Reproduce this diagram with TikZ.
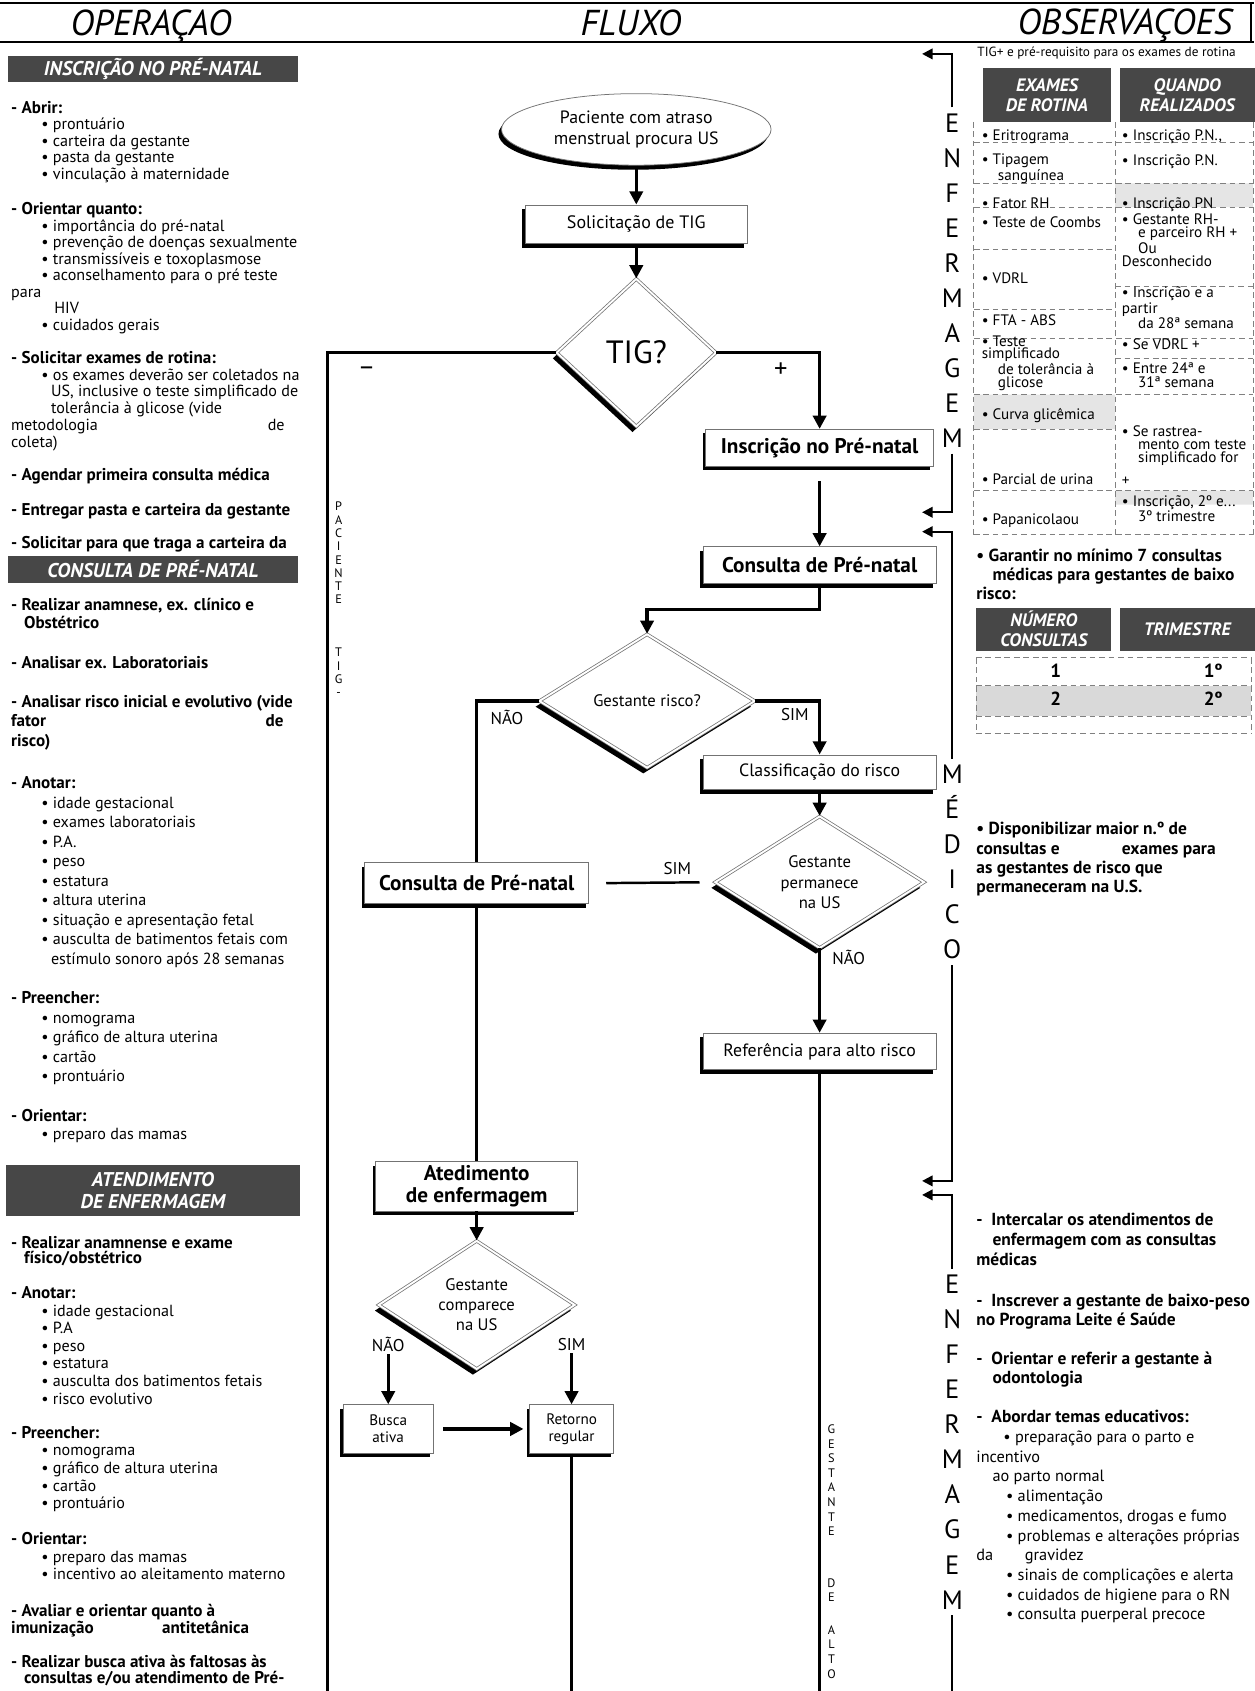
\documentclass[tikz,border=0pt]{standalone}
\usepackage{fontspec}
\setmainfont{PT Sans}
\usetikzlibrary{arrows.meta, positioning, shapes.geometric, shadows}

\newcommand{\fsz}[2]{\fontsize{#1}{#2}\selectfont}
\newcommand{\hd}[1]{{\fontsize{9}{9}\selectfont\bfseries #1}}
\newcommand{\bul}{\textbullet\ }
\newcommand{\itind}{\hspace*{0.56cm}}
\newcommand{\cont}{\hspace*{0.74cm}}
\newcommand{\rind}{\hspace*{0.3cm}}

\begin{document}
\begin{tikzpicture}[
  x=0.02cm, y=-0.02cm,
  ttl/.style={font=\fsz{19}{22}\itshape, inner sep=0, anchor=base},
  banner/.style={rectangle, fill=black!72, text=white, font=\fsz{10.5}{12}\bfseries\itshape,
                 align=center, inner sep=0, anchor=north west},
  item/.style={anchor=base west, align=left, inner sep=0},
  term/.style={ellipse, draw=black!55, fill=white, align=center, font=\fsz{9.4}{11.5},
               minimum width=5cm, minimum height=1.28cm,
               drop shadow={shadow xshift=-1.6pt, shadow yshift=-2.4pt, opacity=1, fill=black}},
  box/.style={rectangle, draw=black!55, fill=white, align=center, inner sep=1pt,
              drop shadow={shadow xshift=-1.6pt, shadow yshift=-2.2pt, opacity=1, fill=black}},
  dec/.style={diamond, draw=black!55, double=white, double distance=1pt, fill=white,
              align=center, inner sep=0,
              drop shadow={shadow xshift=-2pt, shadow yshift=-3pt, opacity=1, fill=black}},
  lbl/.style={font=\fsz{9}{10}, inner sep=1pt},
  arr/.style={-{Triangle[length=7pt,width=7pt]}, line width=1.7pt},
  ln/.style={line width=1.7pt},
  brk/.style={line width=1.1pt},
  brka/.style={brk, -{Triangle[length=5.5pt,width=5.5pt]}},
  vlet/.style={anchor=base, align=center, inner sep=0},
  cell/.style={anchor=base west, align=left, inner sep=0, font=\fsz{8}{7}},
  tline/.style={densely dashed, black!50, line width=0.5pt},
]
  \useasboundingbox (0,0) rectangle (1163,1568);
  \fill[white] (0,0) rectangle (1163,1568);

  % header
  \draw[line width=0.9pt] (0,3) -- (1163,3) (0,39) -- (1163,39) (1160,3) -- (1160,39);
  \node[ttl] (hop) at (140,33) {OPERAÇAO};
  \node[ttl] (hfl) at (585,33) {FLUXO};
  \node[ttl] (hob) at (1043,32) {OBSERVAÇOES};

  % left column: operacao (base = last line)
  \node[item, font=\fsz{8.5}{8.7}] (abrir) at (10,166) {\hd{- Abrir:}\\\itind\bul prontuário\\\itind\bul carteira da gestante\\\itind\bul pasta da gestante\\\itind\bul vinculação à maternidade};
  \node[item, font=\fsz{8.5}{8.7}] (orient) at (10,306) {\hd{- Orientar quanto:}\\\itind\bul importância do pré-natal\\\itind\bul prevenção de doenças sexualmente\\\itind\bul transmissíveis e toxoplasmose\\\itind\bul aconselhamento para o pré teste\\para\\\hspace*{0.8cm}HIV\\\itind\bul cuidados gerais};
  \node[item, font=\fsz{8.5}{8.9}] (solic) at (10,415) {\hd{- Solicitar exames de rotina:}\\\itind\bul os exames deverão ser coletados na\\\cont US, inclusive o teste simplificado de\\\cont tolerância à glicose (vide\\\makebox[4.76cm][l]{metodologia}de\\coleta)};
  \node[item, font=\fsz{9}{9}\bfseries] (agend) at (10,446) {- Agendar primeira consulta médica};
  \node[item, font=\fsz{9}{9}\bfseries] (entreg) at (10,478) {- Entregar pasta e carteira da gestante};
  \node[item, font=\fsz{9}{9}\bfseries] (traga) at (10,509) {- Solicitar para que traga a carteira da};
  \node[banner, minimum width=5.38cm, minimum height=0.48cm] (bn1) at (7,52) {INSCRIÇÃO NO PRÉ-NATAL};
  \node[banner, minimum width=5.38cm, minimum height=0.5cm] (bn2) at (7,515) {CONSULTA DE PRÉ-NATAL};

  \node[item, font=\fsz{9}{9.7}\bfseries] (anam) at (10,583) {- Realizar anamnese, ex. clínico e\\\hspace*{0.24cm}Obstétrico};
  \node[item, font=\fsz{9}{9}\bfseries] (labor) at (10,620) {- Analisar ex. Laboratoriais};
  \node[item, font=\fsz{9}{10.2}\bfseries] (riscoi) at (10,692) {- Analisar risco inicial e evolutivo (vide\\\makebox[4.72cm][l]{fator}de\\risco)};
  \node[item, font=\fsz{8.5}{10.3}] (anot) at (10,894) {\hd{- Anotar:}\\\itind\bul idade gestacional\\\itind\bul exames laboratoriais\\\itind\bul P.A.\\\itind\bul peso\\\itind\bul estatura\\\itind\bul altura uterina\\\itind\bul situação e apresentação fetal\\\itind\bul ausculta de batimentos fetais com\\\cont estímulo sonoro após 28 semanas};
  \node[item, font=\fsz{8.5}{10.3}] (preen) at (10,1003) {\hd{- Preencher:}\\\itind\bul nomograma\\\itind\bul gráfico de altura uterina\\\itind\bul cartão\\\itind\bul prontuário};
  \node[item, font=\fsz{8.5}{9.7}] (orien2) at (10,1057) {\hd{- Orientar:}\\\itind\bul preparo das mamas};
  \node[banner, minimum width=5.46cm, minimum height=0.94cm] (bn3) at (5,1080) {ATENDIMENTO\\DE ENFERMAGEM};

  \node[item, font=\fsz{9}{8.3}\bfseries] (anam3) at (10,1172) {- Realizar anamnense e exame\\\hspace*{0.24cm}físico/obstétrico};
  \node[item, font=\fsz{8.5}{9.3}] (anot3) at (10,1302) {\hd{- Anotar:}\\\itind\bul idade gestacional\\\itind\bul P.A\\\itind\bul peso\\\itind\bul estatura\\\itind\bul ausculta dos batimentos fetais\\\itind\bul risco evolutivo};
  \node[item, font=\fsz{8.5}{9.3}] (preen3) at (10,1399) {\hd{- Preencher:}\\\itind\bul nomograma\\\itind\bul gráfico de altura uterina\\\itind\bul cartão\\\itind\bul prontuário};
  \node[item, font=\fsz{8.5}{9.4}] (orien3) at (10,1465) {\hd{- Orientar:}\\\itind\bul preparo das mamas\\\itind\bul incentivo ao aleitamento materno};
  \node[item, font=\fsz{9}{8.3}\bfseries] (imun) at (10,1515) {- Avaliar e orientar quanto à\\\makebox[2.8cm][l]{imunização}antitetânica};
  \node[item, font=\fsz{9}{8.3}\bfseries] (busca3) at (10,1561) {- Realizar busca ativa às faltosas às\\\hspace*{0.24cm}consultas e/ou atendimento de Pré-};

  % flow
  \node[term] (start) at (590,120) {Paciente com atraso\\menstrual procura US};
  \node[box, minimum width=4.12cm, minimum height=0.72cm, font=\fsz{9.5}{11}] (sol) at (590,208) {Solicitação de TIG};
  \node[dec, minimum width=2.96cm, minimum height=2.74cm, font=\fsz{17}{20}] (tig) at (590,327) {TIG?};
  \node[box, minimum width=4.22cm, minimum height=0.68cm, font=\fsz{11.2}{12}\bfseries] (insc) at (760,415) {Inscrição no Pré-natal};
  \node[box, minimum width=4.32cm, minimum height=0.68cm, font=\fsz{11.2}{12}\bfseries] (cons1) at (760,524) {Consulta de Pré-natal};
  \node[dec, minimum width=4cm, minimum height=2.48cm, font=\fsz{8.8}{10}] (risk) at (600,650) {Gestante risco?};
  \node[box, minimum width=4.32cm, minimum height=0.64cm, font=\fsz{9.4}{11}] (class) at (760,716) {Classificação do risco};
  \node[dec, minimum width=3.88cm, minimum height=2.4cm, font=\fsz{8.8}{11}] (perm) at (760,818) {Gestante\\permanece\\na US};
  \node[box, minimum width=4.16cm, minimum height=0.76cm, font=\fsz{11.2}{12}\bfseries] (cons2) at (442,819) {Consulta de Pré-natal};
  \node[box, minimum width=4.32cm, minimum height=0.68cm, font=\fsz{9.4}{11}] (ref) at (760,975) {Referência para alto risco};
  \node[box, minimum width=3.74cm, minimum height=0.92cm, font=\fsz{11.2}{11.5}\bfseries] (aten) at (442,1100) {Atedimento\\de enfermagem};
  \node[dec, minimum width=3.64cm, minimum height=2cm, font=\fsz{8.8}{10.5}] (comp) at (442,1210) {Gestante\\comparece\\na US};
  \node[box, minimum width=1.68cm, minimum height=0.9cm, font=\fsz{8}{9}] (busca) at (360,1325) {Busca\\ativa};
  \node[box, minimum width=1.56cm, minimum height=0.9cm, font=\fsz{8}{9}] (ret) at (530,1325) {Retorno\\regular};

  \node[font=\fsz{14}{16}, inner sep=0] (lneg) at (340,344) {–};
  \node[font=\fsz{14}{16}, inner sep=0] (lpos) at (724,343) {+};
  \node[lbl] (lnao1) at (470,665) {NÃO};
  \node[lbl] (lsim1) at (737,663) {SIM};
  \node[lbl] (lsim2) at (628,805) {SIM};
  \node[lbl] (lnao2) at (787,888) {NÃO};
  \node[lbl] (lnao3) at (360,1247) {NÃO};
  \node[lbl] (lsim3) at (530,1247) {SIM};

  \coordinate (negend) at (304,1568);
  \coordinate (altend) at (760,1568);
  \coordinate (retend) at (530,1568);

  \draw[arr] (start) -- (sol);
  \draw[arr] (sol) -- (tig);
  \draw[ln] (tig.west) -| (negend);
  \draw[arr] (tig.east) -| (insc.north);
  \draw[arr, shorten <=8pt] (insc) -- (cons1);
  \draw[arr] (cons1.south) -- ++(0,24) -| (risk.north);
  \draw[ln] (risk.west) -| (cons2.north);
  \draw[arr] (risk.east) -| (class.north);
  \draw[arr] (class) -- (perm);
  \draw[line width=1.3pt, shorten <=8pt, shorten >=9pt] (perm.west) -- (cons2.east);
  \draw[arr] (perm.south) -- (ref.north);
  \draw[ln] (ref.south) -- (altend);
  \draw[ln] (cons2.south) -- (aten.north);
  \draw[arr] (aten.south) -- (comp.north);
  \draw[arr] (lnao3.south) -- (busca.north);
  \draw[arr] (lsim3.south) -- (ret.north);
  \draw[arr, shorten <=5pt, shorten >=3pt] (busca) -- (ret);
  \draw[ln] (ret.south) -- (retend);

  % vertical lettering (base = last letter)
  \node[vlet, font=\fsz{6.5}{7}] (pac) at (314,646) {P\\A\\C\\I\\E\\N\\T\\E\\[21pt]T\\I\\G\\-};
  \node[vlet, font=\fsz{6.5}{7.7}] (galt) at (771,1556) {G\\E\\S\\T\\A\\N\\T\\E\\[19.5pt]D\\E\\[9.5pt]A\\L\\T\\O};
  \node[vlet, font=\fsz{14}{18.5}] (enf1) at (883,415) {E\\N\\F\\E\\R\\M\\A\\G\\E\\M};
  \node[vlet, font=\fsz{14}{18.5}] (med) at (883,889) {M\\É\\D\\I\\C\\O};
  \node[vlet, font=\fsz{14}{18.5}] (enf2) at (883,1492) {E\\N\\F\\E\\R\\M\\A\\G\\E\\M};

  \coordinate (b1a) at (855,50);
  \coordinate (b1b) at (855,475);
  \coordinate (b2a) at (855,493);
  \coordinate (b2b) at (855,1095);
  \coordinate (b3a) at (855,1108);
  \coordinate (b3z) at (883,1568);
  \draw[brka] ([yshift=3pt]enf1.north) |- (b1a);
  \draw[brka] ([yshift=-3pt]enf1.south) |- (b1b);
  \draw[brka] ([yshift=3pt]med.north) |- (b2a);
  \draw[brka] ([yshift=-3pt]med.south) |- (b2b);
  \draw[brka] ([yshift=3pt]enf2.north) |- (b3a);
  \draw[brk] ([yshift=-3pt]enf2.south) -- (b3z);

  % observacoes: exames de rotina
  \node[item, font=\fsz{7}{7}] (tignote) at (906,52) {TIG+ e pré-requisito para os exames de rotina};
  \node[banner, font=\fsz{9.5}{10.5}\bfseries\itshape, minimum width=2.38cm, minimum height=1cm] (hexa) at (911,63) {EXAMES\\DE ROTINA};
  \node[banner, font=\fsz{9.5}{10.5}\bfseries\itshape, minimum width=2.5cm, minimum height=1cm] (hqua) at (1038,63) {QUANDO\\REALIZADOS};
  \fill[black!10] (1034,170) rectangle (1162,192) (903,366) rectangle (1034,398) (1034,455) rectangle (1162,468);
  \draw[tline] (903,113) -- (903,496) (1034,113) -- (1034,496) (1162,113) -- (1162,496);
  \draw[tline] (903,132) -- (1162,132) (903,170) -- (1162,170) (903,192) -- (1162,192)
               (903,231) -- (1034,231) (1034,266) -- (1162,266) (903,287) -- (1034,287)
               (903,314) -- (1162,314) (1034,332) -- (1162,332) (903,366) -- (1162,366)
               (903,398) -- (1034,398) (903,455) -- (1162,455) (903,496) -- (1162,496);
  \node[cell] (te1) at (910,130) {\bul Eritrograma};
  \node[cell] (te2) at (910,167) {\bul Tipagem\\\rind sanguínea};
  \node[cell] (te3) at (910,193) {\bul Fator RH};
  \node[cell] (te4) at (910,211) {\bul Teste de Coombs};
  \node[cell] (te5) at (910,263) {\bul VDRL};
  \node[cell] (te6) at (910,302) {\bul FTA - ABS};
  \node[cell, font=\fsz{8}{6.6}] (te7) at (910,359) {\bul Teste\\simplificado\\\rind de tolerância à\\\rind glicose};
  \node[cell] (te8) at (910,389) {\bul Curva glicêmica};
  \node[cell] (te9) at (910,449) {\bul Parcial de urina};
  \node[cell] (te10) at (910,486) {\bul Papanicolaou};
  \node[cell] (tq1) at (1040,130) {\bul Inscrição P.N.,};
  \node[cell] (tq2) at (1040,153) {\bul Inscrição P.N.};
  \node[cell] (tq3) at (1040,193) {\bul Inscrição PN};
  \node[cell] (tq4) at (1040,247) {\bul Gestante RH-\\\rind e parceiro RH +\\\rind Ou\\Desconhecido};
  \node[cell] (tq5) at (1040,305) {\bul Inscrição e a\\partir\\\rind da 28ª semana};
  \node[cell] (tq6) at (1040,324) {\bul Se VDRL +};
  \node[cell] (tq7) at (1040,359) {\bul Entre 24ª e\\\rind 31ª semana};
  \node[cell] (tq8) at (1040,450) {\bul Se rastrea-\\\rind mento com teste\\\rind simplificado for\\[5pt]+};
  \node[cell] (tq9) at (1040,484) {\bul Inscrição, 2º e...\\\rind 3º trimestre};

  % observacoes: consultas
  \node[item, font=\fsz{9.2}{10}\bfseries] (garant) at (905,556) {\bul Garantir no mínimo 7 consultas\\\rind médicas para gestantes de baixo\\risco:};
  \node[banner, font=\fsz{9.5}{10.5}\bfseries\itshape, minimum width=2.5cm, minimum height=0.8cm] (hnum) at (905,563) {NÚMERO\\CONSULTAS};
  \node[banner, font=\fsz{9.5}{10.5}\bfseries\itshape, minimum width=2.5cm, minimum height=0.8cm] (htri) at (1038,563) {TRIMESTRE};
  \fill[black!15] (905,636) rectangle (1160,664);
  \draw[tline] (905,610) -- (1160,610) (905,636) -- (1160,636) (905,664) -- (1160,664)
               (905,680) -- (1160,680) (905,610) -- (905,680) (1160,610) -- (1160,680);
  \node[font=\fsz{10}{11}\bfseries] (n1) at (979,622) {1};
  \node[font=\fsz{10}{11}\bfseries] (t1) at (1125,622) {1º};
  \node[font=\fsz{10}{11}\bfseries] (n2) at (979,648) {2};
  \node[font=\fsz{10}{11}\bfseries] (t2) at (1125,648) {2º};
  \node[item, font=\fsz{9.2}{10.2}\bfseries] (dispon) at (905,828) {\bul Disponibilizar maior n.º de\\\makebox[2.7cm][l]{consultas e}exames para\\as gestantes de risco que\\permaneceram na U.S.};

  % observacoes: enfermagem
  \node[item, font=\fsz{9.2}{10.3}\bfseries] (interc) at (905,1173) {- \ Intercalar os atendimentos de\\\rind enfermagem com as consultas\\médicas};
  \node[item, font=\fsz{9.2}{10}\bfseries] (inscr) at (905,1229) {- \ Inscrever a gestante de baixo-peso\\no Programa Leite é Saúde};
  \node[item, font=\fsz{9.2}{10.2}\bfseries] (odont) at (905,1283) {- \ Orientar e referir a gestante à\\\rind odontologia};
  \node[item, font=\fsz{8.6}{10.4}] (temas) at (905,1502) {{\fontsize{9.2}{9}\selectfont\bfseries - \ Abordar temas educativos:}\\\hspace*{0.5cm}\bul preparação para o parto e\\incentivo\\\rind ao parto normal\\\hspace*{0.55cm}\bul alimentação\\\hspace*{0.55cm}\bul medicamentos, drogas e fumo\\\hspace*{0.55cm}\bul problemas e alterações próprias\\\makebox[0.9cm][l]{da}gravidez\\\hspace*{0.55cm}\bul sinais de complicações e alerta\\\hspace*{0.55cm}\bul cuidados de higiene para o RN\\\hspace*{0.55cm}\bul consulta puerperal precoce};
\end{tikzpicture}
\end{document}
